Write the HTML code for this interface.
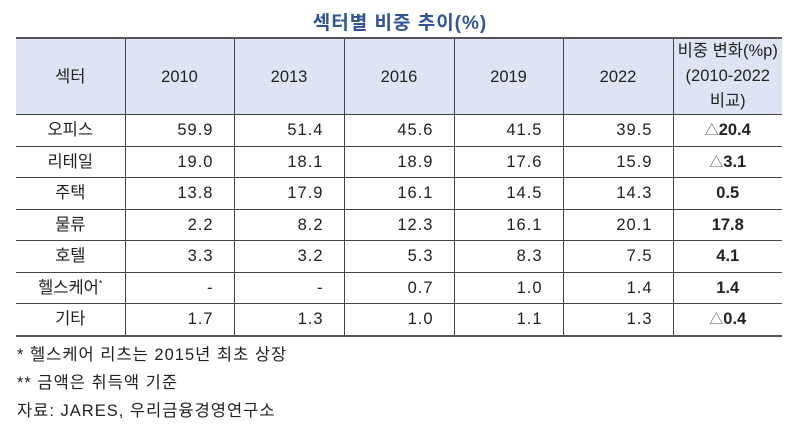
<!DOCTYPE html>
<html><head><meta charset="utf-8"><style>
body{margin:0;width:800px;height:435px;background:#fff;font-family:"Liberation Sans","Noto Sans CJK KR",sans-serif;color:#222;position:relative;overflow:hidden}
.title{position:absolute;left:0;width:800px;top:8px;text-align:center;font-size:19px;font-weight:bold;color:#2f5597;letter-spacing:1px}
table{position:absolute;left:16px;top:37px;border-collapse:collapse;font-size:16.5px;border-top:2px solid #555;border-bottom:2px solid #555}
td{border:1px solid #444;padding:0;height:30.5px;line-height:20px;vertical-align:middle}
tr.h td{background:#dde5f5;height:75px;text-align:center}
td:first-child{border-left:none;text-align:center}
td:last-child{border-right:none;text-align:center;font-weight:bold}
tr.h td:last-child{font-weight:normal;line-height:25px}
td.n{text-align:right;padding-right:20px;letter-spacing:1px}
.tri{font-weight:normal;color:#555;font-size:14px}
.f{position:absolute;left:17px;font-size:16.5px;letter-spacing:1px}
</style></head><body>
<div class="title">섹터별 비중 추이(%)</div>
<table>
<colgroup><col style="width:109px"><col style="width:109px"><col style="width:110px"><col style="width:110px"><col style="width:109px"><col style="width:110px"><col style="width:109px"></colgroup>
<tr class="h"><td>섹터</td><td>2010</td><td>2013</td><td>2016</td><td>2019</td><td>2022</td><td>비중 변화(%p)<br>(2010-2022<br>비교)</td></tr>
<tr><td>오피스</td><td class="n">59.9</td><td class="n">51.4</td><td class="n">45.6</td><td class="n">41.5</td><td class="n">39.5</td><td><span class="tri">△</span>20.4</td></tr>
<tr><td>리테일</td><td class="n">19.0</td><td class="n">18.1</td><td class="n">18.9</td><td class="n">17.6</td><td class="n">15.9</td><td><span class="tri">△</span>3.1</td></tr>
<tr><td>주택</td><td class="n">13.8</td><td class="n">17.9</td><td class="n">16.1</td><td class="n">14.5</td><td class="n">14.3</td><td>0.5</td></tr>
<tr><td>물류</td><td class="n">2.2</td><td class="n">8.2</td><td class="n">12.3</td><td class="n">16.1</td><td class="n">20.1</td><td>17.8</td></tr>
<tr><td>호텔</td><td class="n">3.3</td><td class="n">3.2</td><td class="n">5.3</td><td class="n">8.3</td><td class="n">7.5</td><td>4.1</td></tr>
<tr><td>헬스케어<sup style="font-size:9px;line-height:0">*</sup></td><td class="n">-</td><td class="n">-</td><td class="n">0.7</td><td class="n">1.0</td><td class="n">1.4</td><td>1.4</td></tr>
<tr><td>기타</td><td class="n">1.7</td><td class="n">1.3</td><td class="n">1.0</td><td class="n">1.1</td><td class="n">1.3</td><td><span class="tri">△</span>0.4</td></tr>
</table>
<div class="f" style="top:341px">* 헬스케어 리츠는 2015년 최초 상장</div>
<div class="f" style="top:369px">** 금액은 취득액 기준</div>
<div class="f" style="top:397px">자료: JARES, 우리금융경영연구소</div>
</body></html>
